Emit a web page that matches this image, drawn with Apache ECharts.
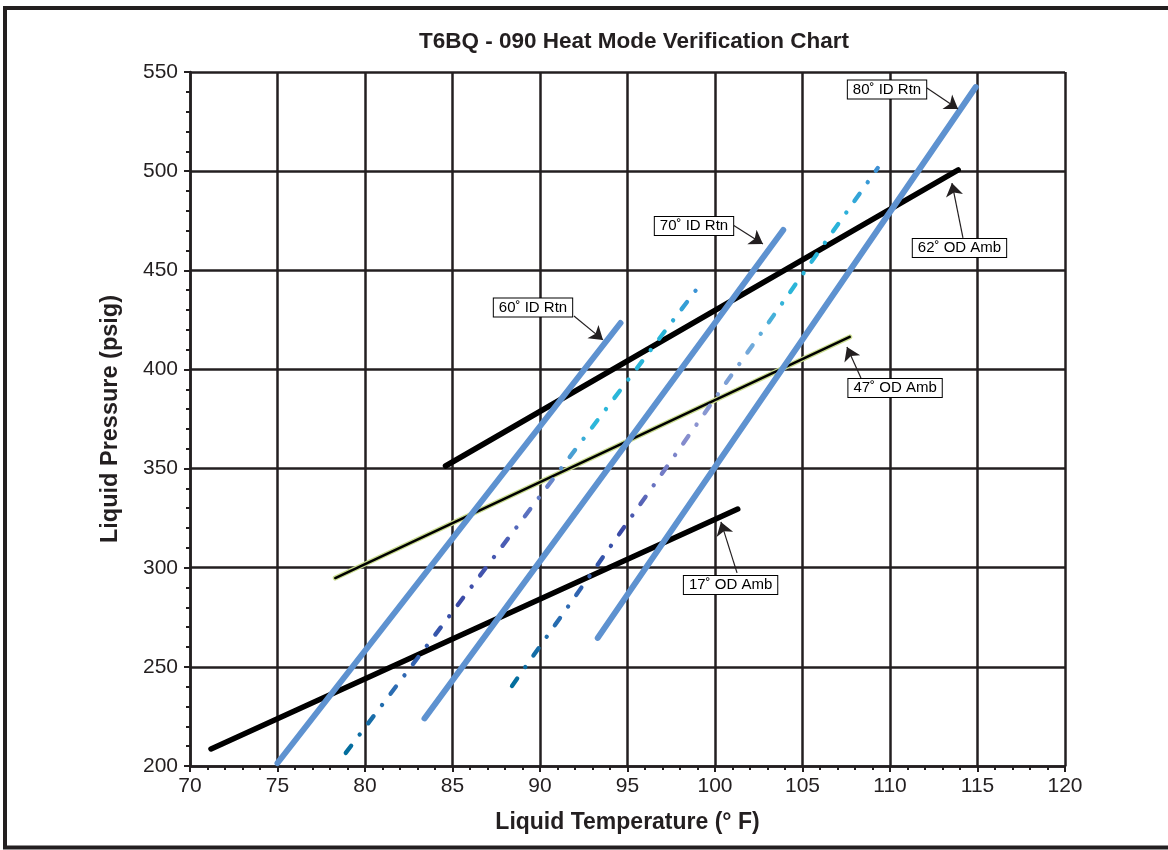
<!DOCTYPE html>
<html>
<head>
<meta charset="utf-8">
<script src="https://cdn.jsdelivr.net/npm/echarts@6/dist/echarts.min.js"></script>
<style>
html,body{margin:0;padding:0;background:#fff;overflow:hidden;}
#chart{width:1168px;height:850px;}
</style>
</head>
<body>
<div id="chart"></div>
<script>
// ---- data (Liquid Temperature °F, Liquid Pressure psig) ----
const rtn60 = [[75.0, 201.5], [94.6, 423.4]];
const rtn70 = [[83.4, 224.0], [103.9, 470.3]];
const rtn80 = [[93.3, 264.6], [114.9, 542.4]];
const amb17 = [[71.2, 208.6], [101.3, 329.6]];
const amb47 = [[78.3, 294.8], [107.7, 416.4]];
const amb62 = [[84.6, 351.3], [113.9, 500.6]];
const dashA = [[78.9, 206.6], [99.0, 441.0]];
const dashB = [[88.4, 240.4], [109.3, 501.6]];

const annoText = ['60˚ ID Rtn', '70˚ ID Rtn', '80˚ ID Rtn', '62˚ OD Amb', '47˚ OD Amb', '17˚ OD Amb'];
const annoPos  = [[89.6, 431.2], [98.8, 472.3], [109.83, 541.2], [113.97, 461.2], [110.29, 390.6], [100.89, 291.3]];
const arrowTail = [[91.94, 426.96], [101.03, 472.8], [112.11, 541.9], [114.17, 466.3], [108.34, 395.7], [101.26, 297.4]];
const arrowTip  = [[93.6, 414.9], [102.74, 463.3], [113.89, 531.3], [113.54, 494.0], [107.54, 411.3], [100.34, 323.1]];

const xTicks = [70, 120, 5];
const yTicks = [200, 550, 50];

const FONT = 'Liberation Sans, Arial, Helvetica, sans-serif';
const INK = '#231F20';
const BLUE = '#5E92D0';

const chart = echarts.init(document.getElementById('chart'), null, {renderer: 'canvas'});

function solid(name, data, color, width, z) {
  return {name, type: 'line', data, showSymbol: false, symbol: 'none', z: z,
    lineStyle: {color, width, cap: 'round'}, silent: true};
}
function dashdot(name, data, stops, z) {
  return {name, type: 'line', data, showSymbol: false, symbol: 'none', z: z, silent: true,
    lineStyle: {width: 4.3, cap: 'round', type: [9, 14, 0.1, 14],
      color: new echarts.graphic.LinearGradient(0, 0, 0, 1, stops)}};
}

const stopsA = [
  {offset: 0, color: '#3E8FD4'}, {offset: 0.1, color: '#27B4D8'}, {offset: 0.3, color: '#2CB7DA'},
  {offset: 0.42, color: '#6A86CC'}, {offset: 0.55, color: '#4A5CB4'}, {offset: 0.68, color: '#3A4AA6'},
  {offset: 0.85, color: '#2F6CB4'}, {offset: 1, color: '#006E9C'}];
const stopsB = [
  {offset: 0, color: '#3F8FD4'}, {offset: 0.1, color: '#2AB3DA'}, {offset: 0.25, color: '#2BB5D8'},
  {offset: 0.35, color: '#73A9DA'}, {offset: 0.5, color: '#8C93D0'}, {offset: 0.6, color: '#6E78C4'},
  {offset: 0.7, color: '#3A4AA6'}, {offset: 0.85, color: '#2E6CB4'}, {offset: 1, color: '#006E9C'}];

const option = {
  backgroundColor: '#fff',
  animation: false,
  title: {
    text: 'T6BQ - 090 Heat Mode Verification Chart',
    left: 629, top: 25, textAlign: 'center',
    textStyle: {fontFamily: FONT, fontWeight: 'bold', fontSize: 22.5, color: INK}
  },
  graphic: [{
    type: 'rect', shape: {x: 5, y: 8, width: 1200, height: 839.5}, silent: true, z: 100,
    style: {fill: 'none', stroke: INK, lineWidth: 4}
  }],
  grid: {left: 190, right: 103, top: 72, bottom: 84, containLabel: false},
  xAxis: {
    type: 'value', min: xTicks[0], max: xTicks[1], interval: xTicks[2],
    name: 'Liquid Temperature (° F)', nameLocation: 'middle', nameGap: 45,
    nameTextStyle: {fontFamily: FONT, fontWeight: 'bold', fontSize: 23, color: INK},
    axisLine: {show: true, onZero: false, lineStyle: {color: INK, width: 2.5}},
    axisTick: {show: true, inside: false, length: 6, lineStyle: {color: INK, width: 2}},
    minorTick: {show: true, splitNumber: 5, length: 4, lineStyle: {color: INK, width: 2}},
    axisLabel: {fontFamily: FONT, fontSize: 21, color: INK, margin: 10},
    splitLine: {show: true, lineStyle: {color: INK, width: 2.5}}
  },
  yAxis: {
    type: 'value', min: yTicks[0], max: yTicks[1], interval: yTicks[2],
    name: 'Liquid Pressure (psig)', nameLocation: 'middle', nameGap: 67, nameRotate: 90,
    nameTextStyle: {fontFamily: FONT, fontWeight: 'bold', fontSize: 23.5, color: INK},
    axisLine: {show: true, onZero: false, lineStyle: {color: INK, width: 2.5}},
    axisTick: {show: true, inside: false, length: 6, lineStyle: {color: INK, width: 2}},
    minorTick: {show: true, splitNumber: 5, length: 4, lineStyle: {color: INK, width: 2}},
    axisLabel: {fontFamily: FONT, fontSize: 21, color: INK, margin: 12},
    splitLine: {show: true, lineStyle: {color: INK, width: 2.5}}
  },
  series: [
    solid('17° OD Amb', amb17, '#000', 5.5, 3),
    solid('62° OD Amb', amb62, '#000', 5.5, 3),
    solid('47° OD Amb halo', amb47, '#C9DB8E', 5, 3),
    solid('47° OD Amb', amb47, '#000', 2.5, 4),
    solid('60° ID Rtn', rtn60, BLUE, 6, 5),
    solid('70° ID Rtn', rtn70, BLUE, 6, 5),
    solid('80° ID Rtn', rtn80, BLUE, 6, 5),
    dashdot('dash A', dashA, stopsA, 6),
    dashdot('dash B', dashB, stopsB, 6),
    {
      type: 'lines', coordinateSystem: 'cartesian2d', z: 8, silent: true,
      symbol: ['none', 'arrow'], symbolSize: [8, 13],
      lineStyle: {color: INK, width: 1.2, opacity: 1},
      data: arrowTail.map((t, i) => ({coords: [t, arrowTip[i]]}))
    },
    {
      type: 'scatter', z: 9, silent: true, symbolSize: 0,
      itemStyle: {opacity: 1},
      emphasis: {disabled: true},
      data: annoPos.map((p, i) => ({value: p, name: annoText[i]})),
      label: {
        show: true, position: 'inside', formatter: (p) => p.name,
        fontFamily: FONT, fontSize: 15, color: '#000', opacity: 1,
        backgroundColor: '#fff', borderColor: '#000', borderWidth: 1, padding: [2, 5, 1, 5]
      }
    }
  ]
};
chart.setOption(option);
</script>
</body>
</html>
